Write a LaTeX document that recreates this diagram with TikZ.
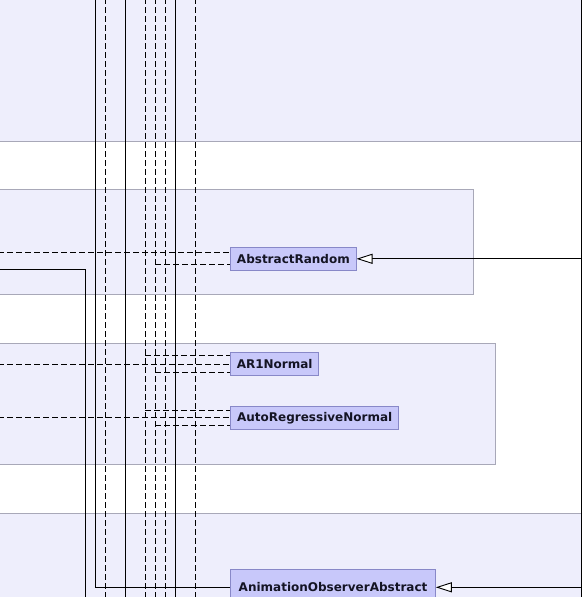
\documentclass[tikz,border=0pt]{standalone}
\usepackage{fontspec}
\setsansfont{DejaVu Sans}
\usetikzlibrary{arrows.meta}
\definecolor{bandfill}{RGB}{238,238,252}
\definecolor{bandedge}{RGB}{168,168,184}
\definecolor{classfill}{RGB}{200,200,250}
\definecolor{classedge}{RGB}{136,136,200}
\definecolor{classtext}{RGB}{20,20,36}
\pgfdeclarelayer{bands}
\pgfdeclarelayer{wires}
\pgfsetlayers{bands,wires,main}
\begin{document}
\begin{tikzpicture}[x=1pt,y=-1pt,
  band/.style={fill=bandfill,draw=bandedge,line width=0.8pt},
  classbox/.style={draw=classedge,fill=classfill,line width=0.8pt,
    minimum height=23pt,inner sep=0pt,anchor=west,text=classtext,
    font=\sffamily\bfseries\fontsize{12}{14}\selectfont},
  link/.style={line width=0.9pt,black},
  dep/.style={link,dash pattern=on 6pt off 3pt},
  gen/.style={link,-{Triangle[open,length=16pt,width=10pt,fill=white]}},
]
\useasboundingbox (0,0) rectangle (583,597);
\clip (0,0) rectangle (583,597);

% package bands and groups
\begin{pgfonlayer}{bands}
\path[band] (-5,-5) rectangle (581.5,141);
\path[band] (-5,513.3) rectangle (581.5,605);
\path[band] (-5,189.3) rectangle (473.3,294);
\path[band] (-5,343.3) rectangle (495,464);
\end{pgfonlayer}

% classes
\node[classbox,minimum width=125.4pt] (ar) at (230.3,258.8) {AbstractRandom};
\node[classbox,minimum width=88pt] (ar1) at (230.3,364.2) {AR1Normal};
\node[classbox,minimum width=168pt] (arn) at (230.3,417.8) {AutoRegressiveNormal};
\node[classbox,minimum width=204.7pt,minimum height=36pt] (anim) at (230.3,587.3) {AnimationObserverAbstract};

\begin{pgfonlayer}{wires}
% through-going vertical connectors
\foreach \x in {105.3,145.3,155.3,165.3,195.3}
  \draw[dep] (\x,-2) -- (\x,599);
\foreach \x in {125.3,175.3}
  \draw[link] (\x,-2) -- (\x,599);

% solid route into AnimationObserverAbstract
\coordinate (v95) at (95.3,-2);
\draw[link] (v95) |- (anim.west);

% solid route from the left bending down
\coordinate (s1) at (-2,269);
\coordinate (s1b) at (85.3,269);
\coordinate (s1c) at (85.3,599);
\draw[link] (s1) -- (s1b) -- (s1c);

% dashed dependencies from the left
\coordinate (d1) at (-2,252);
\coordinate (d2) at (-2,364.3);
\coordinate (d3) at (-2,417.3);
\draw[dep] (d1) -- (d1 -| ar.west);
\draw[dep] (d2) -- (d2 -| ar1.west);
\draw[dep] (d3) -- (d3 -| arn.west);

% dashed branches off the vertical bus
\coordinate (b1) at (155.3,264.3);
\coordinate (b2) at (145.3,355.7);
\coordinate (b3) at (155.3,372.3);
\coordinate (b4) at (145.3,410.7);
\coordinate (b5) at (155.3,425.3);
\draw[dep] (b1) -- (b1 -| ar.west);
\draw[dep] (b2) -- (b2 -| ar1.west);
\draw[dep] (b3) -- (b3 -| ar1.west);
\draw[dep] (b4) -- (b4 -| arn.west);
\draw[dep] (b5) -- (b5 -| arn.west);

% generalisations on the right
\coordinate (rtop) at (581.3,-2);
\coordinate (rbot) at (581.3,599);
\draw[link] (rtop) -- (rbot);
\draw[gen] (ar.east -| rtop) -- (ar.east);
\draw[gen] (anim.east -| rtop) -- (anim.east);
\end{pgfonlayer}
\end{tikzpicture}
\end{document}
